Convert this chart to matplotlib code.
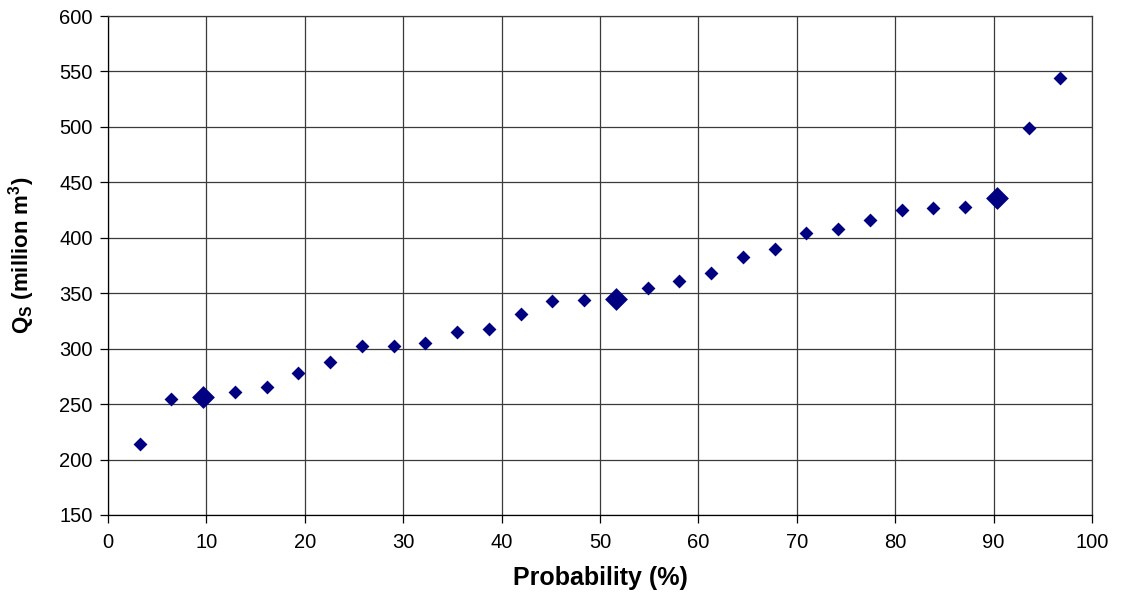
import numpy as np
import matplotlib
matplotlib.use("Agg")
import matplotlib.pyplot as plt

plt.rcParams['font.family'] = ['Liberation Sans', 'DejaVu Sans']

# Probability (%) : Weibull plotting positions i/(n+1)
rank = list(range(1, 31))
n_years = 30
qs = [214, 255, 256, 261, 265, 278, 288, 302, 302, 305,
      315, 318, 331, 343, 344, 345, 355, 361, 368, 383,
      390, 404, 408, 416, 425, 427, 428, 436, 499, 544]
prob = [r / (n_years + 1) * 100 for r in rank]

# highlighted points (10%, 50%, 90%)
hl_prob = [prob[2], prob[15], prob[27]]
hl_qs = [qs[2], qs[15], qs[27]]

x_ticks = list(range(0, 101, 10))
y_ticks = list(range(150, 601, 50))

fig = plt.figure(figsize=(11.23, 6.04), dpi=100)
ax = fig.add_axes([108/1123, 89/604, 984/1123, 499/604])

ax.scatter(prob, qs, marker='D', s=50, color='#000080', zorder=3, linewidths=0)
ax.scatter(hl_prob, hl_qs, marker='D', s=135, color='#000080', zorder=4, linewidths=0)

ax.set_xlim(0, 100)
ax.set_ylim(150, 600)
ax.set_xticks(x_ticks)
ax.set_yticks(y_ticks)
ax.grid(True, color='#3a3a3a', linewidth=0.9)
ax.set_axisbelow(True)
for sp in ax.spines.values():
    sp.set_color('#3a3a3a')
    sp.set_linewidth(0.9)
ax.spines['left'].set_color('black')
ax.spines['bottom'].set_color('black')
ax.tick_params(axis='both', direction='out', length=6, width=0.9, labelsize=14.5, colors='black')
ax.tick_params(axis='x', pad=7)
ax.tick_params(axis='y', pad=5)
ax.set_xlabel('Probability (%)', fontsize=18, fontweight='bold', labelpad=10)
ax.set_ylabel(r'Q$_\mathregular{S}$ (million m$^\mathregular{3}$)', fontsize=16, fontweight='bold')
ax.yaxis.set_label_coords(-0.072, 0.52)

fig.savefig('out.png', dpi=100, facecolor='white')
